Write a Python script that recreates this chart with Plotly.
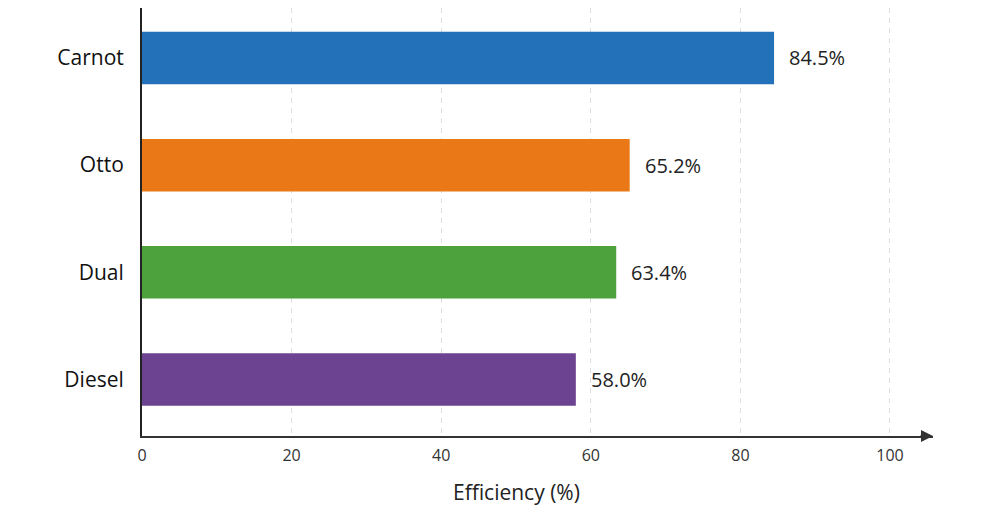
import plotly.graph_objects as go

# Cycle efficiencies
cycles = ["Carnot", "Otto", "Dual", "Diesel"]
efficiency = [84.5, 65.2, 63.4, 58.0]
bar_colors = ["#2371b9", "#ea7817", "#4ea23d", "#6c4390"]
x_ticks = [0, 20, 40, 60, 80, 100]

FONT = "Open Sans, Noto Sans, sans-serif"

fig = go.Figure()

fig.add_trace(go.Bar(
    y=cycles,
    x=efficiency,
    orientation="h",
    marker=dict(color=bar_colors, line=dict(width=0)),
    width=0.49,
    hoverinfo="skip",
))

# value labels to the right of each bar
for c, v in zip(cycles, efficiency):
    fig.add_annotation(
        x=v, y=c, xref="x", yref="y",
        text=f"{v:.1f}%", showarrow=False,
        xanchor="left", xshift=13,
        font=dict(family=FONT, size=20, color="#222222"),
    )

# arrow head at the end of the x axis
fig.add_annotation(
    x=1, y=0, xref="paper", yref="paper",
    ax=-14, ay=0, axref="pixel", ayref="pixel",
    text="", showarrow=True,
    arrowhead=2, arrowsize=1.2, arrowwidth=2, arrowcolor="#333333",
)

# axis title, centred under the 0-100 span
fig.add_annotation(
    x=50, y=0, xref="x", yref="paper",
    yshift=-56, yanchor="middle",
    text="Efficiency (%)", showarrow=False,
    font=dict(family=FONT, size=21, color="#222222"),
)

fig.update_layout(
    width=992,
    height=502,
    plot_bgcolor="white",
    paper_bgcolor="white",
    showlegend=False,
    margin=dict(l=134, r=67, t=0, b=74),
    font=dict(family=FONT, color="#222222"),
    xaxis=dict(
        range=[0, 105.75],
        tickvals=x_ticks,
        ticktext=[str(t) for t in x_ticks],
        tickfont=dict(size=16, color="#333333"),
        showgrid=True,
        gridcolor="#dedede",
        griddash="5px,5px",
        gridwidth=1,
        zeroline=False,
        showline=True,
        linecolor="#333333",
        linewidth=2,
        ticks="",
        ticklabelstandoff=4,
    ),
    yaxis=dict(
        categoryorder="array",
        categoryarray=cycles[::-1],
        range=[-0.527, 3.466],
        tickfont=dict(size=21, color="#111111"),
        showgrid=False,
        zeroline=False,
        showline=True,
        linecolor="#222222",
        linewidth=2,
        ticks="",
        ticklabelstandoff=12,
    ),
)

fig.write_html("out.html")
